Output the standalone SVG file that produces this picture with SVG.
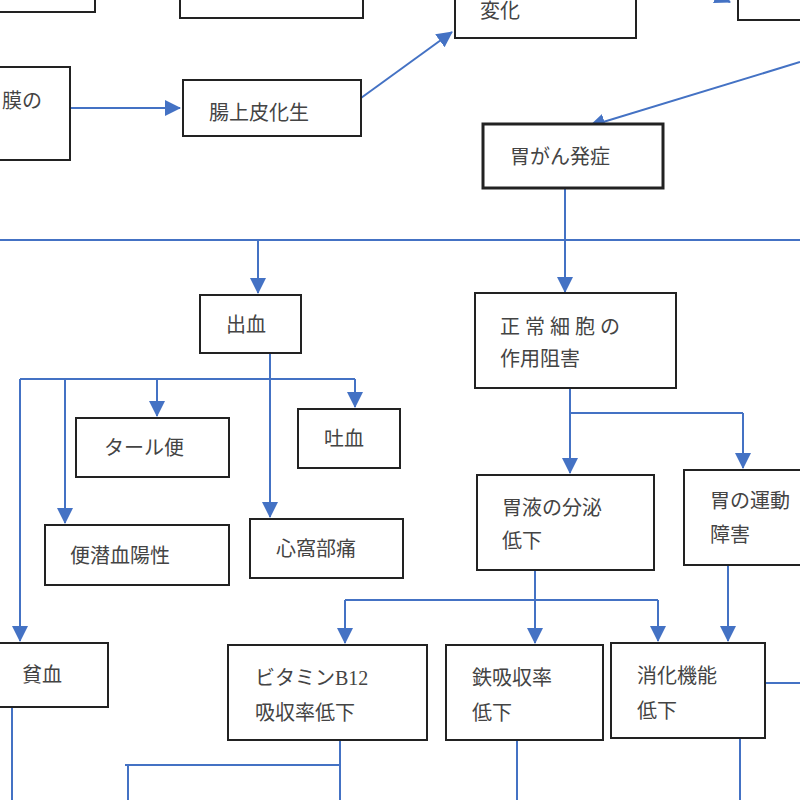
<svg xmlns="http://www.w3.org/2000/svg" width="800" height="800" viewBox="0 0 800 800">
<defs>
<marker id="b" markerWidth="16" markerHeight="16" refX="15" refY="8" orient="auto" markerUnits="userSpaceOnUse"><path d="M0,0 L16,8 L0,16 Z" fill="#4472C4"/></marker>
</defs>
<style>
.n rect{fill:#fff;stroke:#222;stroke-width:2}
text{font-family:"Liberation Serif","Noto Sans CJK JP",serif;font-size:20px;fill:#444}
#conn line{stroke:#4472C4;stroke-width:2;fill:none}
.m{marker-end:url(#b)}
</style>
<rect width="800" height="800" fill="#fff"/>
<g id="conn">
<line class="m" x1="70" y1="108" x2="180" y2="108"/>
<line class="m" x1="361" y1="98" x2="452" y2="32"/>
<line class="m" x1="800" y1="62" x2="590" y2="126"/>
<line class="m" x1="715" y1="-5" x2="730" y2="2"/>
<line class="m" x1="565" y1="188" x2="565" y2="292"/>
<line x1="0" y1="240" x2="800" y2="240"/>
<line class="m" x1="258" y1="240" x2="258" y2="293"/>
<line class="m" x1="270" y1="353" x2="270" y2="517"/>
<line x1="20" y1="379" x2="355" y2="379"/>
<line class="m" x1="20" y1="379" x2="20" y2="641"/>
<line class="m" x1="65" y1="379" x2="65" y2="523"/>
<line class="m" x1="157" y1="379" x2="157" y2="416"/>
<line class="m" x1="355" y1="379" x2="355" y2="407"/>
<line class="m" x1="570" y1="388" x2="570" y2="473"/>
<line x1="570" y1="413" x2="743" y2="413"/>
<line class="m" x1="743" y1="413" x2="743" y2="468"/>
<line x1="535" y1="570" x2="535" y2="600"/>
<line x1="345" y1="600" x2="658" y2="600"/>
<line class="m" x1="345" y1="600" x2="345" y2="643"/>
<line class="m" x1="535" y1="600" x2="535" y2="643"/>
<line class="m" x1="658" y1="600" x2="658" y2="641"/>
<line class="m" x1="728" y1="565" x2="728" y2="641"/>
<line x1="765" y1="683" x2="800" y2="683"/>
<line x1="12" y1="707" x2="12" y2="800"/>
<line x1="340" y1="740" x2="340" y2="800"/>
<line x1="125" y1="765" x2="340" y2="765"/>
<line x1="128" y1="765" x2="128" y2="800"/>
<line x1="517" y1="740" x2="517" y2="800"/>
<line x1="740" y1="738" x2="740" y2="800"/>
</g>
<g id="n1" class="n"><rect x="-10" y="-20" width="105" height="32"/></g>
<g id="n2" class="n"><rect x="180" y="-20" width="183" height="38"/></g>
<g id="n3" class="n"><rect x="455" y="-20" width="181" height="58"/><text x="480" y="18">変化</text></g>
<g id="n4" class="n"><rect x="738" y="-20" width="80" height="40"/></g>
<g id="n5" class="n"><rect x="-10" y="67" width="80" height="93"/><text x="2" y="108">膜の</text></g>
<g id="n6" class="n"><rect x="183" y="80" width="178" height="56"/><text x="209" y="120">腸上皮化生</text></g>
<g id="n7" class="n"><rect x="483" y="124" width="180" height="64" style="stroke-width:3"/><text x="510" y="164">胃がん発症</text></g>
<g id="n8" class="n"><rect x="200" y="295" width="101" height="58"/><text x="226" y="332">出血</text></g>
<g id="n9" class="n"><rect x="475" y="293" width="201" height="95"/><text x="500" y="334" letter-spacing="5">正常細胞の</text><text x="500" y="366">作用阻害</text></g>
<g id="n10" class="n"><rect x="76" y="418" width="153" height="59"/><text x="104" y="455">タール便</text></g>
<g id="n11" class="n"><rect x="298" y="409" width="102" height="59"/><text x="324" y="446">吐血</text></g>
<g id="n12" class="n"><rect x="45" y="525" width="184" height="60"/><text x="70" y="563">便潜血陽性</text></g>
<g id="n13" class="n"><rect x="250" y="519" width="153" height="59"/><text x="276" y="556">心窩部痛</text></g>
<g id="n14" class="n"><rect x="477" y="475" width="177" height="95"/><text x="502" y="515">胃液の分泌</text><text x="502" y="548">低下</text></g>
<g id="n15" class="n"><rect x="684" y="470" width="130" height="95"/><text x="710" y="508">胃の運動</text><text x="710" y="542">障害</text></g>
<g id="n16" class="n"><rect x="-5" y="643" width="113" height="64"/><text x="22" y="682">貧血</text></g>
<g id="n17" class="n"><rect x="228" y="645" width="199" height="95"/><text x="255" y="685">ビタミンB12</text><text x="255" y="720">吸収率低下</text></g>
<g id="n18" class="n"><rect x="446" y="645" width="157" height="95"/><text x="472" y="685">鉄吸収率</text><text x="472" y="720">低下</text></g>
<g id="n19" class="n"><rect x="611" y="643" width="154" height="95"/><text x="637" y="683">消化機能</text><text x="637" y="718">低下</text></g>
</svg>
